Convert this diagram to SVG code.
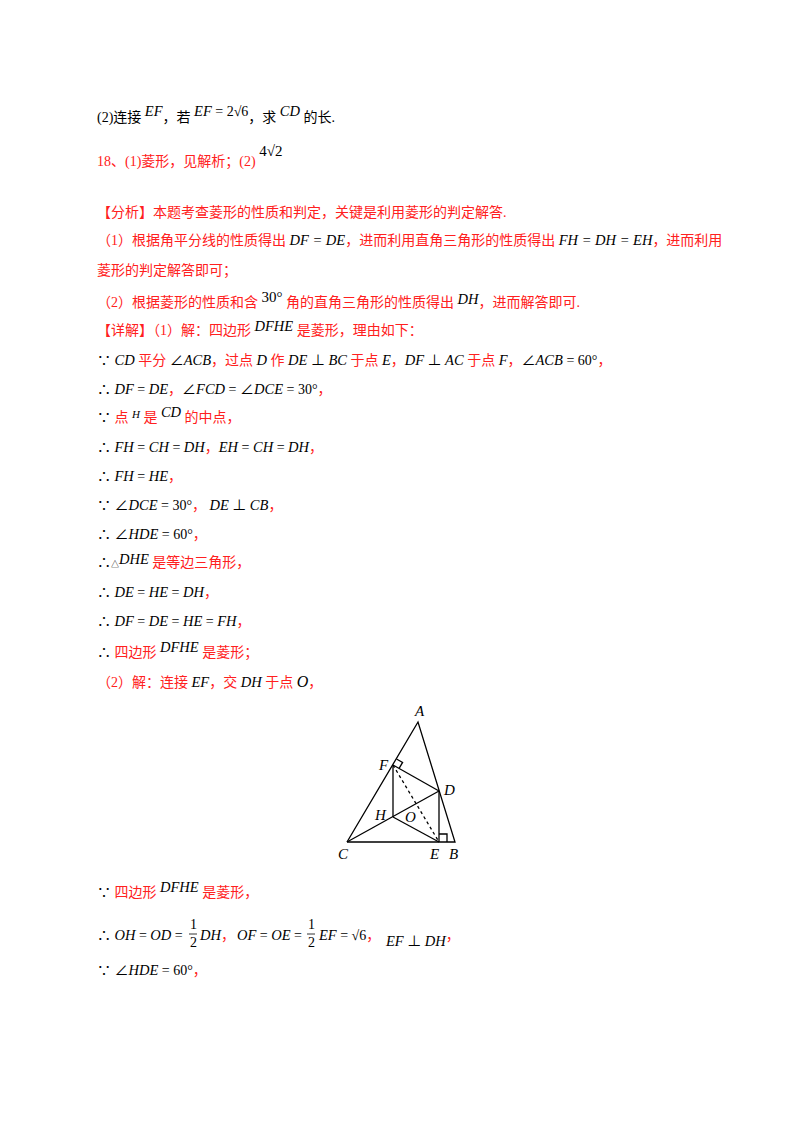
<svg xmlns="http://www.w3.org/2000/svg" width="800" height="1132" viewBox="0 0 800 1132">
<style>
text{font-family:"Liberation Serif","Noto Sans CJK SC",serif;font-size:14px;fill:#000}
.r{fill:#ff2020}
.m{font-style:italic;font-family:"Liberation Serif",serif;font-size:14.5px}
.l{font-style:italic;font-family:"Liberation Serif",serif;font-size:15px}
.ln{stroke:#000;stroke-width:1.3;fill:none}
</style>
<rect width="800" height="1132" fill="#fff"/>
<text x="97" y="122">(2)连接 <tspan class="m" dy="-6">EF</tspan><tspan dy="6">，若 </tspan><tspan class="m" dy="-6">EF</tspan><tspan dy="0"> = 2√6</tspan><tspan dy="6">，求 </tspan><tspan class="m" dy="-6">CD</tspan><tspan dy="6"> 的长.</tspan></text>
<text x="97" y="166" class="r">18、(1)菱形，见解析；(2) <tspan dy="-10" style="fill:#000;font-size:15px">4√2</tspan></text>
<text x="97" y="217" class="r">【分析】本题考查菱形的性质和判定，关键是利用菱形的判定解答.</text>
<text x="97" y="245" class="r">（1）根据角平分线的性质得出 <tspan class="m" style="fill:#000">DF = DE</tspan>，进而利用直角三角形的性质得出 <tspan class="m" style="fill:#000">FH = DH = EH</tspan>，进而利用</text>
<text x="97" y="275" class="r">菱形的判定解答即可；</text>
<text x="97" y="307" class="r">（2）根据菱形的性质和含 <tspan dy="-5" style="fill:#000;font-size:15px">30°</tspan><tspan dy="5"> 角的直角三角形的性质得出 </tspan><tspan class="m" style="fill:#000" dy="-3">DH</tspan><tspan dy="3">，进而解答即可.</tspan></text>
<text x="97" y="335" class="r">【详解】（1）解：四边形 <tspan class="m" style="fill:#000" dy="-4">DFHE</tspan><tspan dy="4"> 是菱形，理由如下：</tspan></text>
<text x="97" y="365">∵ <tspan class="m">CD</tspan><tspan class="r"> 平分 </tspan>∠<tspan class="m">ACB</tspan><tspan class="r">，过点 </tspan><tspan class="m">D</tspan><tspan class="r"> 作 </tspan><tspan class="m">DE</tspan> ⊥ <tspan class="m">BC</tspan><tspan class="r"> 于点 </tspan><tspan class="m">E</tspan><tspan class="r">，</tspan><tspan class="m">DF</tspan> ⊥ <tspan class="m">AC</tspan><tspan class="r"> 于点 </tspan><tspan class="m">F</tspan><tspan class="r">，</tspan>∠<tspan class="m">ACB</tspan> = 60°<tspan class="r">，</tspan></text>
<text x="97" y="394">∴ <tspan class="m">DF</tspan> = <tspan class="m">DE</tspan><tspan class="r">，</tspan>∠<tspan class="m">FCD</tspan> = ∠<tspan class="m">DCE</tspan> = 30°<tspan class="r">，</tspan></text>
<text x="97" y="422">∵ <tspan class="r">点 </tspan><tspan class="m" dy="-4" style="font-size:11px">H</tspan><tspan class="r" dy="4"> 是 </tspan><tspan class="m" dy="-5">CD</tspan><tspan class="r" dy="5"> 的中点，</tspan></text>
<text x="97" y="452">∴ <tspan class="m">FH</tspan> = <tspan class="m">CH</tspan> = <tspan class="m">DH</tspan><tspan class="r">，</tspan><tspan class="m">EH</tspan> = <tspan class="m">CH</tspan> = <tspan class="m">DH</tspan><tspan class="r">，</tspan></text>
<text x="97" y="481">∴ <tspan class="m">FH</tspan> = <tspan class="m">HE</tspan><tspan class="r">，</tspan></text>
<text x="97" y="510">∵ ∠<tspan class="m">DCE</tspan> = 30°<tspan class="r">，</tspan> <tspan class="m">DE</tspan> ⊥ <tspan class="m">CB</tspan><tspan class="r">，</tspan></text>
<text x="97" y="539">∴ ∠<tspan class="m">HDE</tspan> = 60°<tspan class="r">，</tspan></text>
<text x="97" y="567">∴<tspan style="font-size:8px">△</tspan><tspan class="m" dy="-3">DHE</tspan><tspan class="r" dy="3"> 是等边三角形，</tspan></text>
<text x="97" y="597">∴ <tspan class="m">DE</tspan> = <tspan class="m">HE</tspan> = <tspan class="m">DH</tspan><tspan class="r">，</tspan></text>
<text x="97" y="626">∴ <tspan class="m">DF</tspan> = <tspan class="m">DE</tspan> = <tspan class="m">HE</tspan> = <tspan class="m">FH</tspan><tspan class="r">，</tspan></text>
<text x="97" y="657">∴ <tspan class="r">四边形 </tspan><tspan class="m" dy="-5">DFHE</tspan><tspan class="r" dy="5"> 是菱形；</tspan></text>
<text x="97" y="687" class="r">（2）解：连接 <tspan class="m" style="fill:#000">EF</tspan>，交 <tspan class="m" style="fill:#000">DH</tspan> 于点 <tspan class="m" style="fill:#000;font-size:16px">O</tspan>，</text>
<g id="figure">
<g id="connectors">
<polyline class="ln" points="347,842 418,722 455,842 347,842"/>
<line class="ln" x1="347" y1="842" x2="439" y2="791"/>
<line class="ln" x1="393" y1="765" x2="439" y2="791"/>
<line class="ln" x1="393" y1="765" x2="393" y2="817"/>
<line class="ln" x1="393" y1="817" x2="439" y2="842"/>
<line class="ln" x1="439" y1="791" x2="439" y2="842"/>
<line class="ln" x1="393" y1="765" x2="439" y2="842" stroke-dasharray="3,3"/>
<polyline class="ln" points="396.5,759 402.6,762.4 399.1,768.4" stroke-width="1"/>
<polyline class="ln" points="439,834 447,834 447,842" stroke-width="1"/>
</g>
<g id="labels">
<text class="l" x="415" y="716">A</text>
<text class="l" x="379" y="770">F</text>
<text class="l" x="444" y="795">D</text>
<text class="l" x="375" y="820">H</text>
<text class="l" x="405" y="822">O</text>
<text class="l" x="338" y="859">C</text>
<text class="l" x="430" y="859">E</text>
<text class="l" x="449" y="859">B</text>
</g>
</g>
<text x="97" y="897">∵ <tspan class="r">四边形 </tspan><tspan class="m" dy="-5">DFHE</tspan><tspan class="r" dy="5"> 是菱形，</tspan></text>
<text x="97" y="940">∴ <tspan class="m">OH</tspan> = <tspan class="m">OD</tspan> =</text>
<text x="190" y="929">1</text>
<line x1="189" y1="934" x2="197" y2="934" stroke="#000" stroke-width="0.8"/>
<text x="190" y="947">2</text>
<text x="200" y="940"><tspan class="m">DH</tspan><tspan class="r">，</tspan></text>
<text x="237" y="940"><tspan class="m">OF</tspan> = <tspan class="m">OE</tspan> =</text>
<text x="308" y="929">1</text>
<line x1="307" y1="934" x2="315" y2="934" stroke="#000" stroke-width="0.8"/>
<text x="308" y="947">2</text>
<text x="319" y="940"><tspan class="m">EF</tspan> = √6<tspan class="r">，</tspan></text>
<text x="386" y="946"><tspan class="m">EF</tspan> ⊥ <tspan class="m">DH</tspan><tspan class="r" dy="-6">，</tspan></text>
<text x="97" y="975">∵ ∠<tspan class="m">HDE</tspan> = 60°<tspan class="r">，</tspan></text>
</svg>
